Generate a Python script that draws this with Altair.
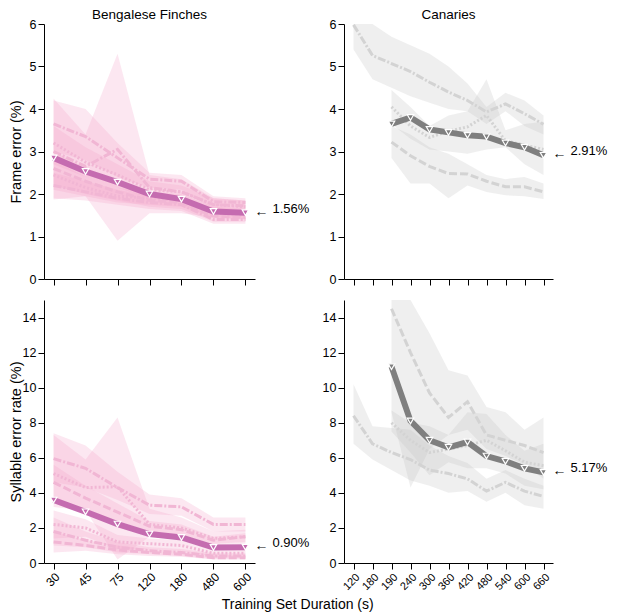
import altair as alt
import pandas as pd

# ---------------- categories ----------------
BF_X = ["30", "45", "75", "120", "180", "480", "600"]
CAN_X = ["120", "180", "190", "240", "300", "360", "420", "480", "540", "600", "660"]

# ---------------- Bengalese finches: frame error (%) ----------------
bf_fe_b1 = [3.65, 3.35, 2.85, 2.35, 2.30, 1.82, 1.80]
bf_fe_b1_lo = [3.00, 2.80, 2.40, 2.15, 2.10, 1.65, 1.65]
bf_fe_b1_hi = [4.20, 4.00, 3.20, 2.50, 2.45, 1.95, 1.90]
bf_fe_b2 = [3.00, 2.65, 3.05, 2.15, 2.05, 1.75, 1.72]
bf_fe_b2_lo = [1.87, 1.95, 0.90, 1.55, 1.55, 1.45, 1.42]
bf_fe_b2_hi = [4.25, 3.40, 5.30, 2.45, 2.35, 1.90, 1.85]
bf_fe_b3 = [3.20, 2.75, 2.45, 2.10, 2.05, 1.75, 1.70]
bf_fe_b3_lo = [2.70, 2.40, 2.15, 1.90, 1.90, 1.60, 1.55]
bf_fe_b3_hi = [3.60, 3.10, 2.70, 2.30, 2.20, 1.90, 1.85]
bf_fe_b4 = [2.60, 2.30, 2.05, 1.85, 1.80, 1.48, 1.45]
bf_fe_b4_lo = [2.20, 2.00, 1.85, 1.70, 1.65, 1.35, 1.35]
bf_fe_b4_hi = [3.00, 2.60, 2.30, 2.00, 1.95, 1.60, 1.55]
bf_fe_b5 = [2.20, 2.05, 1.90, 1.80, 1.75, 1.40, 1.40]
bf_fe_b5_lo = [1.90, 1.85, 1.75, 1.65, 1.60, 1.30, 1.30]
bf_fe_b5_hi = [2.50, 2.30, 2.10, 1.95, 1.90, 1.50, 1.50]
bf_fe_b6 = [2.45, 2.15, 1.95, 1.90, 1.85, 1.55, 1.50]
bf_fe_b6_lo = [2.10, 1.95, 1.80, 1.75, 1.70, 1.45, 1.40]
bf_fe_b6_hi = [2.80, 2.40, 2.15, 2.05, 2.00, 1.70, 1.65]
bf_fe_mean = [2.85, 2.53, 2.28, 2.00, 1.88, 1.59, 1.56]

# ---------------- Bengalese finches: syllable error rate (%) ----------------
bf_se_b1 = [5.95, 5.40, 4.30, 3.30, 3.20, 2.20, 2.20]
bf_se_b1_lo = [4.60, 4.30, 3.60, 2.80, 2.70, 1.80, 1.80]
bf_se_b1_hi = [7.40, 6.70, 5.20, 3.90, 3.70, 2.60, 2.60]
bf_se_b2 = [5.10, 4.30, 4.35, 2.20, 2.00, 1.40, 1.50]
bf_se_b2_lo = [3.20, 3.00, 0.20, 1.50, 1.50, 1.00, 1.10]
bf_se_b2_hi = [7.30, 5.90, 8.30, 3.10, 2.60, 1.80, 1.90]
bf_se_b3 = [4.60, 3.70, 2.90, 2.10, 1.90, 1.30, 1.50]
bf_se_b3_lo = [3.60, 3.00, 2.40, 1.80, 1.60, 1.10, 1.20]
bf_se_b3_hi = [5.60, 4.40, 3.40, 2.40, 2.20, 1.50, 1.70]
bf_se_b4 = [2.20, 2.00, 1.20, 1.10, 1.00, 0.55, 0.55]
bf_se_b4_lo = [1.40, 1.50, 0.80, 0.80, 0.70, 0.35, 0.35]
bf_se_b4_hi = [3.00, 2.50, 1.60, 1.40, 1.30, 0.75, 0.75]
bf_se_b5 = [1.80, 1.30, 0.90, 0.70, 0.60, 0.40, 0.40]
bf_se_b5_lo = [1.00, 0.90, 0.60, 0.50, 0.40, 0.25, 0.25]
bf_se_b5_hi = [2.60, 1.80, 1.20, 0.90, 0.80, 0.55, 0.55]
bf_se_b6 = [1.20, 1.00, 0.75, 0.60, 0.50, 0.30, 0.30]
bf_se_b6_lo = [0.60, 0.70, 0.50, 0.40, 0.35, 0.20, 0.20]
bf_se_b6_hi = [1.80, 1.30, 1.00, 0.80, 0.70, 0.45, 0.45]
bf_se_mean = [3.59, 2.92, 2.22, 1.65, 1.46, 0.89, 0.90]

# ---------------- Canaries: frame error (%) ----------------
can_fe_c1 = [5.98, 5.26, 5.07, 4.88, 4.63, 4.40, 4.20, 3.93, 4.12, 3.89, 3.64]
can_fe_c1_lo = [5.40, 4.70, 4.50, 4.30, 4.15, 4.00, 3.95, 3.65, 3.95, 3.60, 3.40]
can_fe_c1_hi = [6.40, 6.10, 5.70, 5.50, 5.30, 5.00, 4.60, 4.05, 4.38, 4.20, 3.85]
can_fe_c2 = [None, None, 3.22, 2.90, 2.65, 2.48, 2.47, 2.30, 2.17, 2.17, 2.05]
can_fe_c2_lo = [None, None, 2.85, 2.25, 2.25, 1.90, 2.20, 2.05, 1.97, 1.95, 1.88]
can_fe_c2_hi = [None, None, 3.60, 3.40, 3.10, 2.95, 2.70, 2.45, 2.35, 2.40, 2.25]
can_fe_c3 = [None, None, 4.05, 3.60, 3.33, 3.48, 3.58, 3.85, 3.25, 3.15, 3.05]
can_fe_c3_lo = [None, None, 3.65, 3.30, 3.05, 3.00, 2.95, 3.05, 3.10, 2.70, 2.45]
can_fe_c3_hi = [None, None, 4.45, 4.05, 3.60, 3.85, 3.95, 4.70, 3.50, 3.65, 3.70]
can_fe_mean = [None, None, 3.65, 3.80, 3.52, 3.45, 3.38, 3.35, 3.20, 3.10, 2.91]

# ---------------- Canaries: syllable error rate (%) ----------------
can_se_c1 = [8.40, 6.80, 6.30, 5.90, 5.30, 5.10, 4.80, 4.10, 4.60, 4.10, 3.80]
can_se_c1_lo = [6.80, 5.90, 5.30, 4.70, 4.40, 4.00, 4.10, 3.50, 4.00, 3.30, 3.10]
can_se_c1_hi = [10.20, 7.80, 7.70, 7.60, 6.70, 6.10, 5.70, 4.80, 5.30, 4.80, 4.40]
can_se_c2 = [None, None, 14.50, 12.00, 9.70, 8.30, 9.20, 7.30, 7.00, 6.70, 6.30]
can_se_c2_lo = [None, None, 8.60, 4.30, 6.50, 7.30, 7.60, 6.50, 6.10, 5.60, 4.80]
can_se_c2_hi = [None, None, 16.00, 16.00, 13.10, 11.00, 10.70, 8.90, 8.60, 7.60, 8.30]
can_se_c3 = [None, None, 8.00, 7.00, 6.30, 6.50, 6.70, 7.00, 6.40, 5.75, 5.55]
can_se_c3_lo = [None, None, 7.50, 6.30, 5.00, 5.75, 5.40, 5.40, 5.10, 4.40, 4.20]
can_se_c3_hi = [None, None, 8.70, 8.00, 7.80, 7.30, 8.60, 8.50, 7.30, 6.40, 6.80]
can_se_mean = [None, None, 11.20, 8.10, 7.00, 6.60, 6.90, 6.10, 5.80, 5.40, 5.17]

# panel titles
TITLE_BF = "Bengalese Finches"
TITLE_CAN = "Canaries"
X_TITLE = "Training Set Duration (s)"

# line styles of the individual birds
BF_STYLES = ["dashdot", "dashdot", "dotted", "dashed", "dashdot", "dotted"]
BF_STYLES_SE = ["dashdot", "dotted", "dashed", "dotted", "dashdot", "dashed"]
CAN_STYLES = ["dashdot", "dashed", "dotted"]

PINK = {"mean": "#c56cb0", "line": "#f1b6d4", "band": "#f3a3c9"}
GREY = {"mean": "#7f7f7f", "line": "#d3d3d3", "band": "#c2c2c2"}

FONT = "Liberation Sans"


def build_frames(cats, birds, styles, mean):
    rows = []
    for b, ((m, lo, hi), st) in enumerate(zip(birds, styles)):
        for x, mv, lv, hv in zip(cats, m, lo, hi):
            if mv is None:
                continue
            rows.append({"bird": f"b{b}", "style": st, "x": x, "m": mv, "lo": lv, "hi": hv})
    df = pd.DataFrame(rows)
    mrows = [{"x": x, "m": v} for x, v in zip(cats, mean) if v is not None]
    dm = pd.DataFrame(mrows)
    last = mrows[-1]
    da = pd.DataFrame([{"x": last["x"], "m": last["m"], "label": f"{last['m']:.2f}%"}])
    return df, dm, da


def panel(cats, birds, styles, mean, pal, ydom, yticks, width, height, pad,
          title=None, ytitle=None, bottom=False, xlabsize=12):
    df, dm, da = build_frames(cats, birds, styles, mean)

    if bottom:
        xaxis = alt.Axis(title=None, labelAngle=-45, labelFontSize=xlabsize,
                         tickSize=6, labelPadding=2)
    else:
        xaxis = alt.Axis(title=None, labels=False, tickSize=6)
    x = alt.X("x:N", sort=cats,
              scale=alt.Scale(type="point", domain=cats, padding=pad),
              axis=xaxis)

    ykw = dict(values=yticks, tickSize=6, labelPadding=2, title=ytitle)
    if ytitle is not None:
        ykw["titleX"] = -21
    yaxis = alt.Axis(**ykw)
    yscale = alt.Scale(domain=ydom, nice=False, zero=True, clamp=True)
    y_m = alt.Y("m:Q", scale=yscale, axis=yaxis)

    band = alt.Chart(df).mark_area(clip=True, opacity=0.26, color=pal["band"]).encode(
        x=x,
        y=alt.Y("lo:Q", scale=yscale, axis=yaxis),
        y2="hi:Q",
        detail="bird:N",
    )
    lines = alt.Chart(df).mark_line(clip=True, strokeWidth=3, color=pal["line"]).encode(
        x=x,
        y=y_m,
        detail="bird:N",
        strokeDash=alt.StrokeDash(
            "style:N",
            scale=alt.Scale(domain=["dashdot", "dotted", "dashed"],
                            range=[[8, 2, 2, 2], [2, 2], [8, 3]]),
            legend=None,
        ),
    )
    mline = alt.Chart(dm).mark_line(clip=True, strokeWidth=6, color=pal["mean"]).encode(
        x=x, y=y_m
    )
    mpts = alt.Chart(dm).mark_point(
        shape="triangle-down", filled=True, size=42, fill=pal["mean"],
        stroke="white", strokeWidth=1.2, opacity=1,
    ).encode(x=x, y=y_m)
    arrow = alt.Chart(da).mark_text(
        text="←", dx=16, dy=-1, align="center", baseline="middle", fontSize=14,
        fontWeight="bold", color="black"
    ).encode(x=x, y=y_m)
    note = alt.Chart(da).mark_text(
        dx=27, align="left", baseline="alphabetic", fontSize=13, color="black"
    ).encode(x=x, y=y_m, text="label:N")

    layers = [band, lines, mline, mpts, arrow, note]
    if title is not None:
        tdf = pd.DataFrame({"t": [title]})
        layers.append(
            alt.Chart(tdf).mark_text(align="center", baseline="alphabetic",
                                     fontSize=13.5, color="black").encode(
                x=alt.value(width / 2), y=alt.value(-5), text="t:N")
        )
    return alt.layer(*layers).properties(width=width, height=height)


bf_fe_birds = [
    (bf_fe_b1, bf_fe_b1_lo, bf_fe_b1_hi), (bf_fe_b2, bf_fe_b2_lo, bf_fe_b2_hi),
    (bf_fe_b3, bf_fe_b3_lo, bf_fe_b3_hi), (bf_fe_b4, bf_fe_b4_lo, bf_fe_b4_hi),
    (bf_fe_b5, bf_fe_b5_lo, bf_fe_b5_hi), (bf_fe_b6, bf_fe_b6_lo, bf_fe_b6_hi),
]
bf_se_birds = [
    (bf_se_b1, bf_se_b1_lo, bf_se_b1_hi), (bf_se_b2, bf_se_b2_lo, bf_se_b2_hi),
    (bf_se_b3, bf_se_b3_lo, bf_se_b3_hi), (bf_se_b4, bf_se_b4_lo, bf_se_b4_hi),
    (bf_se_b5, bf_se_b5_lo, bf_se_b5_hi), (bf_se_b6, bf_se_b6_lo, bf_se_b6_hi),
]
can_fe_birds = [
    (can_fe_c1, can_fe_c1_lo, can_fe_c1_hi), (can_fe_c2, can_fe_c2_lo, can_fe_c2_hi),
    (can_fe_c3, can_fe_c3_lo, can_fe_c3_hi),
]
can_se_birds = [
    (can_se_c1, can_se_c1_lo, can_se_c1_hi), (can_se_c2, can_se_c2_lo, can_se_c2_hi),
    (can_se_c3, can_se_c3_lo, can_se_c3_hi),
]

W1, W2, H1, H2 = 211, 209, 255, 263
FE_TICKS = [0, 1, 2, 3, 4, 5, 6]
SE_TICKS = [0, 2, 4, 6, 8, 10, 12, 14]

tl = panel(BF_X, bf_fe_birds, BF_STYLES, bf_fe_mean, PINK, [0, 6], FE_TICKS, W1, H1, 0.3,
           title=TITLE_BF, ytitle="Frame error (%)")
bl = panel(BF_X, bf_se_birds, BF_STYLES_SE, bf_se_mean, PINK, [0, 15], SE_TICKS, W1, H2, 0.3,
           ytitle="Syllable error rate (%)", bottom=True, xlabsize=12)
tr = panel(CAN_X, can_fe_birds, CAN_STYLES, can_fe_mean, GREY, [0, 6], FE_TICKS, W2, H1, 0.5,
           title=TITLE_CAN)
br = panel(CAN_X, can_se_birds, CAN_STYLES, can_se_mean, GREY, [0, 15], SE_TICKS, W2, H2, 0.5,
           bottom=True, xlabsize=11)

left = alt.vconcat(tl, bl, spacing=14)
right = alt.vconcat(tr, br, spacing=14)

chart = alt.hconcat(left, right, spacing=12).properties(
    padding={"left": 0, "top": 0, "right": 0, "bottom": 0},
    title=alt.TitleParams(X_TITLE, orient="bottom", anchor="middle",
                          fontSize=14, fontWeight="normal", offset=5, dx=-10),
).configure(font=FONT).configure_view(strokeWidth=0).configure_axis(
    domainColor="black", tickColor="black", labelColor="black", titleColor="black",
    grid=False, labelFontSize=12.5, titleFontSize=14.5, titleFontWeight="normal",
    labelFont=FONT, titleFont=FONT,
).configure_title(font=FONT, color="black")

chart.save("out.html", embed_options={"renderer": "svg", "actions": False})
